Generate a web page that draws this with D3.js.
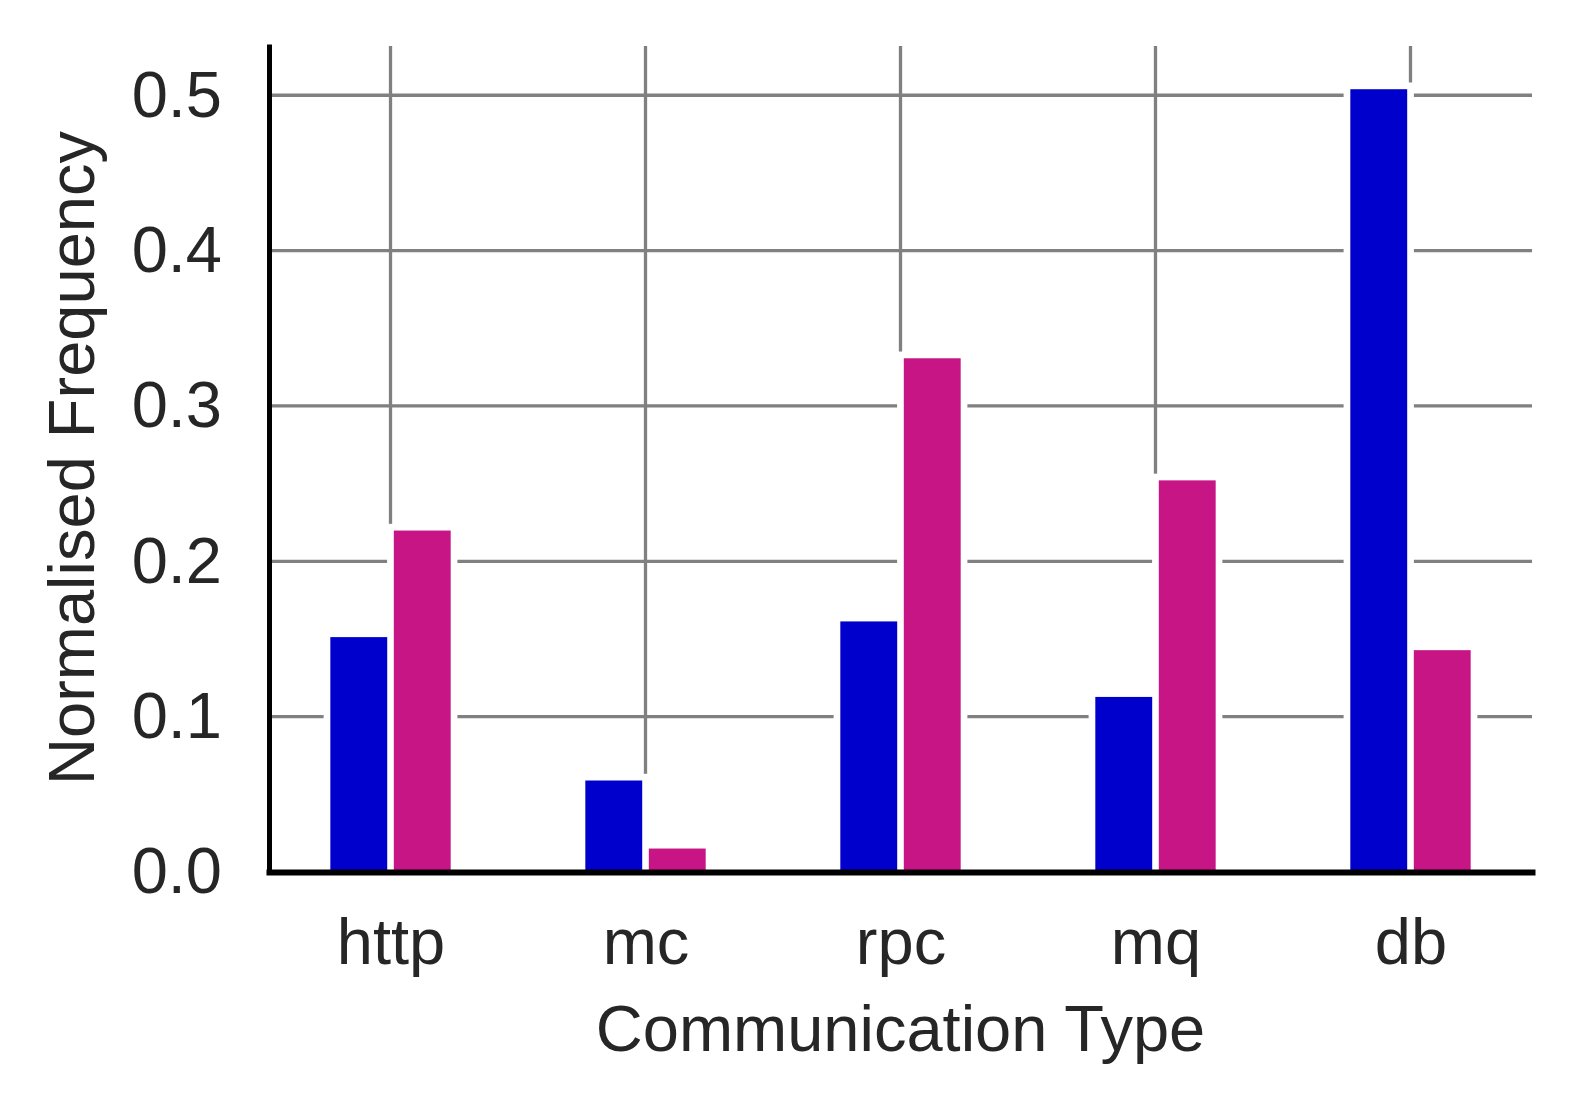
<!DOCTYPE html>
<html>
<head>
<meta charset="utf-8">
<script src="https://cdn.jsdelivr.net/npm/d3@7"></script>
<style>
  body { margin: 0; background: #fff; }
  text { font-family: "Liberation Sans", Arial, sans-serif; fill: #262626; }
</style>
</head>
<body>
<div id="chart"></div>
<script>
// data
var categories = ["http", "mc", "rpc", "mq", "db"];
var seriesNames = ["blue", "magenta"];
var blueValues = [0.1512, 0.0589, 0.1613, 0.1127, 0.5039];
var magentaValues = [0.2198, 0.0151, 0.3307, 0.2521, 0.1428];
var yTicks = [0.0, 0.1, 0.2, 0.3, 0.4, 0.5];

var colors = { blue: "#0000cd", magenta: "#c71585" };

var W = 1578, H = 1111;
var margin = {top: 44, right: 46, bottom: 239, left: 269},
    width = W - margin.left - margin.right,
    height = H - margin.top - margin.bottom;

var svg = d3.select("#chart").append("svg")
    .attr("width", W)
    .attr("height", H)
  .append("g")
    .attr("transform", "translate(" + margin.left + "," + margin.top + ")");

var x = d3.scalePoint()
    .domain(categories)
    .range([0, width])
    .padding(0.4765);

var step = x.step();
var groupW = step * 0.472;
var xs = d3.scaleBand()
    .domain(seriesNames)
    .range([-groupW / 2, groupW / 2])
    .paddingInner(0.104);

var y = d3.scaleLinear()
    .domain([0, 0.533])
    .range([height, 0]);

var rows = [];
categories.forEach(function(c, i) {
  rows.push({cat: c, s: "blue", v: blueValues[i]});
  rows.push({cat: c, s: "magenta", v: magentaValues[i]});
});

// grid
svg.append("g").selectAll("line.h")
    .data(yTicks.slice(1))
  .enter().append("line")
    .attr("x1", 0).attr("x2", width)
    .attr("y1", function(d) { return y(d); })
    .attr("y2", function(d) { return y(d); })
    .attr("stroke", "#808080")
    .attr("stroke-width", 3.3);

svg.append("g").selectAll("line.v")
    .data(categories)
  .enter().append("line")
    .attr("x1", function(d) { return x(d); })
    .attr("x2", function(d) { return x(d); })
    .attr("y1", 2).attr("y2", height)
    .attr("stroke", "#808080")
    .attr("stroke-width", 3.3);

// white halo round each bar
var pad = 6.7;
svg.append("g").selectAll("rect")
    .data(rows)
  .enter().append("rect")
    .attr("x", function(d) { return x(d.cat) + xs(d.s) - pad; })
    .attr("y", function(d) { return y(d.v) - pad; })
    .attr("width", xs.bandwidth() + 2 * pad)
    .attr("height", function(d) { return height - y(d.v) + pad; })
    .attr("fill", "#fff");

svg.append("g").selectAll("rect")
    .data(rows)
  .enter().append("rect")
    .attr("x", function(d) { return x(d.cat) + xs(d.s); })
    .attr("y", function(d) { return y(d.v); })
    .attr("width", xs.bandwidth())
    .attr("height", function(d) { return height - y(d.v); })
    .attr("fill", function(d) { return colors[d.s]; });

// axes
var yAxis = svg.append("g")
    .call(d3.axisLeft(y).tickValues(yTicks).tickFormat(d3.format(".1f")).tickSize(0).tickPadding(47));
var xAxis = svg.append("g")
    .attr("transform", "translate(0," + height + ")")
    .call(d3.axisBottom(x).tickSize(0).tickPadding(46));

[yAxis, xAxis].forEach(function(a) {
  a.selectAll("text")
    .style("font-size", "65px")
    .style("font-family", "'Liberation Sans', Arial, sans-serif")
    .attr("fill", "#262626");
});
yAxis.select(".domain").attr("stroke", "#000").attr("stroke-width", 5);
xAxis.select(".domain").attr("stroke", "#000").attr("stroke-width", 6)
    .attr("stroke-linecap", "square");

svg.append("text")
    .attr("x", width / 2)
    .attr("y", height + 179)
    .attr("text-anchor", "middle")
    .style("font-size", "65px")
    .text("Communication Type");

svg.append("text")
    .attr("transform", "rotate(-90)")
    .attr("x", -height / 2)
    .attr("y", 93.5 - margin.left)
    .attr("text-anchor", "middle")
    .style("font-size", "65px")
    .text("Normalised Frequency");
</script>
</body>
</html>
